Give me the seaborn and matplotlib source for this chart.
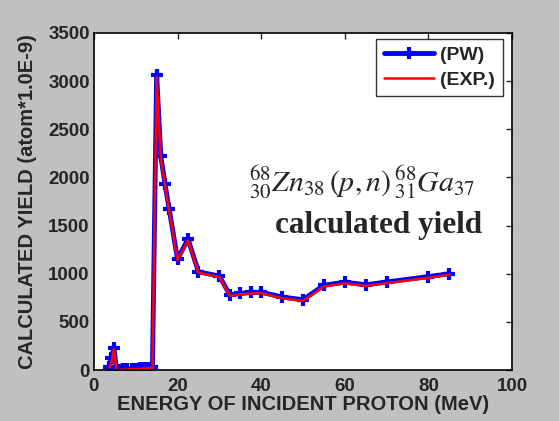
import matplotlib
matplotlib.use("Agg")
import matplotlib.pyplot as plt
import seaborn as sns
import pandas as pd

energy = [3.7, 4.1, 4.8, 5.4, 6, 7, 8, 9, 10, 11, 12, 13, 14, 15, 16, 17, 18, 20,
          22.5, 25, 30, 32.5, 35, 37.5, 40, 45, 50, 55, 60, 65, 70, 80, 85]
yield_pw = [34, 120, 228, 2, 4, 6, 9, 12, 15, 18, 21, 24, 28, 3065, 2220, 1930,
            1670, 1150, 1360, 1020, 975, 780, 795, 805, 808, 758, 730, 880, 912, 885,
            914, 970, 1000]
yield_exp = [25, 60, 220, 0, 2, 4, 6, 8, 10, 13, 16, 19, 22, 3040, 2200, 1915,
             1655, 1140, 1345, 1010, 965, 770, 785, 795, 798, 745, 718, 868, 900, 872,
             902, 958, 990]
series_names = ["(PW)", "(EXP.)"]

x_ticks = [0, 20, 40, 60, 80, 100]
y_ticks = [0, 500, 1000, 1500, 2000, 2500, 3000, 3500]

sns.set_style("white")
plt.rcParams["font.family"] = ["Liberation Sans", "DejaVu Sans"]
plt.rcParams["mathtext.fontset"] = "stix"

df = pd.DataFrame({
    "energy": energy * 2,
    "yield": yield_pw + yield_exp,
    "series": [series_names[0]] * len(energy) + [series_names[1]] * len(energy),
})

fig = plt.figure(figsize=(5.59, 4.21), dpi=100, facecolor="#c0c0c0")
ax = fig.add_axes([0.168, 0.121, 0.748, 0.801])
ax.set_facecolor("white")

sns.lineplot(data=df[df.series == series_names[0]], x="energy", y="yield", ax=ax,
             color="#0000ff", lw=3.5, marker="+", markersize=9, mew=3,
             mec="#0000ff", label=series_names[0], estimator=None, sort=False)
sns.lineplot(data=df[df.series == series_names[1]], x="energy", y="yield", ax=ax,
             color="#ff0000", lw=1.8, label=series_names[1], estimator=None, sort=False)

ax.set_xlim(0, 100)
ax.set_ylim(0, 3500)
ax.set_xticks(x_ticks)
ax.set_yticks(y_ticks)
ax.tick_params(direction="in", length=4, width=1, top=True, right=True,
               labelsize=13.5)
ax.tick_params(axis="x", pad=6)
ax.tick_params(axis="y", pad=3)
for lab in ax.get_xticklabels() + ax.get_yticklabels():
    lab.set_fontweight("bold")
for s in ax.spines.values():
    s.set_linewidth(1.2)
    s.set_color("black")

ax.set_xlabel("ENERGY OF INCIDENT PROTON (MeV)", fontsize=14.5, fontweight="bold", labelpad=0)
ax.set_ylabel("CALCULATED YIELD (atom*1.0E-9)", fontsize=14.5, fontweight="bold", labelpad=8)

leg = ax.legend(loc="upper right", bbox_to_anchor=(0.978, 0.982), frameon=True,
                fancybox=False, edgecolor="black", fontsize=14, numpoints=1,
                handlelength=2.6, borderpad=0.4, labelspacing=0.35, handletextpad=0.3,
                borderaxespad=0)
leg.get_frame().set_linewidth(1.0)
for t in leg.get_texts():
    t.set_fontweight("bold")

ax.text(0.372, 0.555, r"$^{68}_{30}Zn_{38}\,(p,n)\,^{68}_{31}Ga_{37}$", transform=ax.transAxes,
        fontsize=21.5, ha="left", va="center")
ax.text(0.433, 0.43, "calculated yield", transform=ax.transAxes,
        fontsize=22.5, fontweight="bold", family=["Liberation Serif", "DejaVu Serif"],
        ha="left", va="center")

fig.savefig("out.png", dpi=100, facecolor=fig.get_facecolor())
